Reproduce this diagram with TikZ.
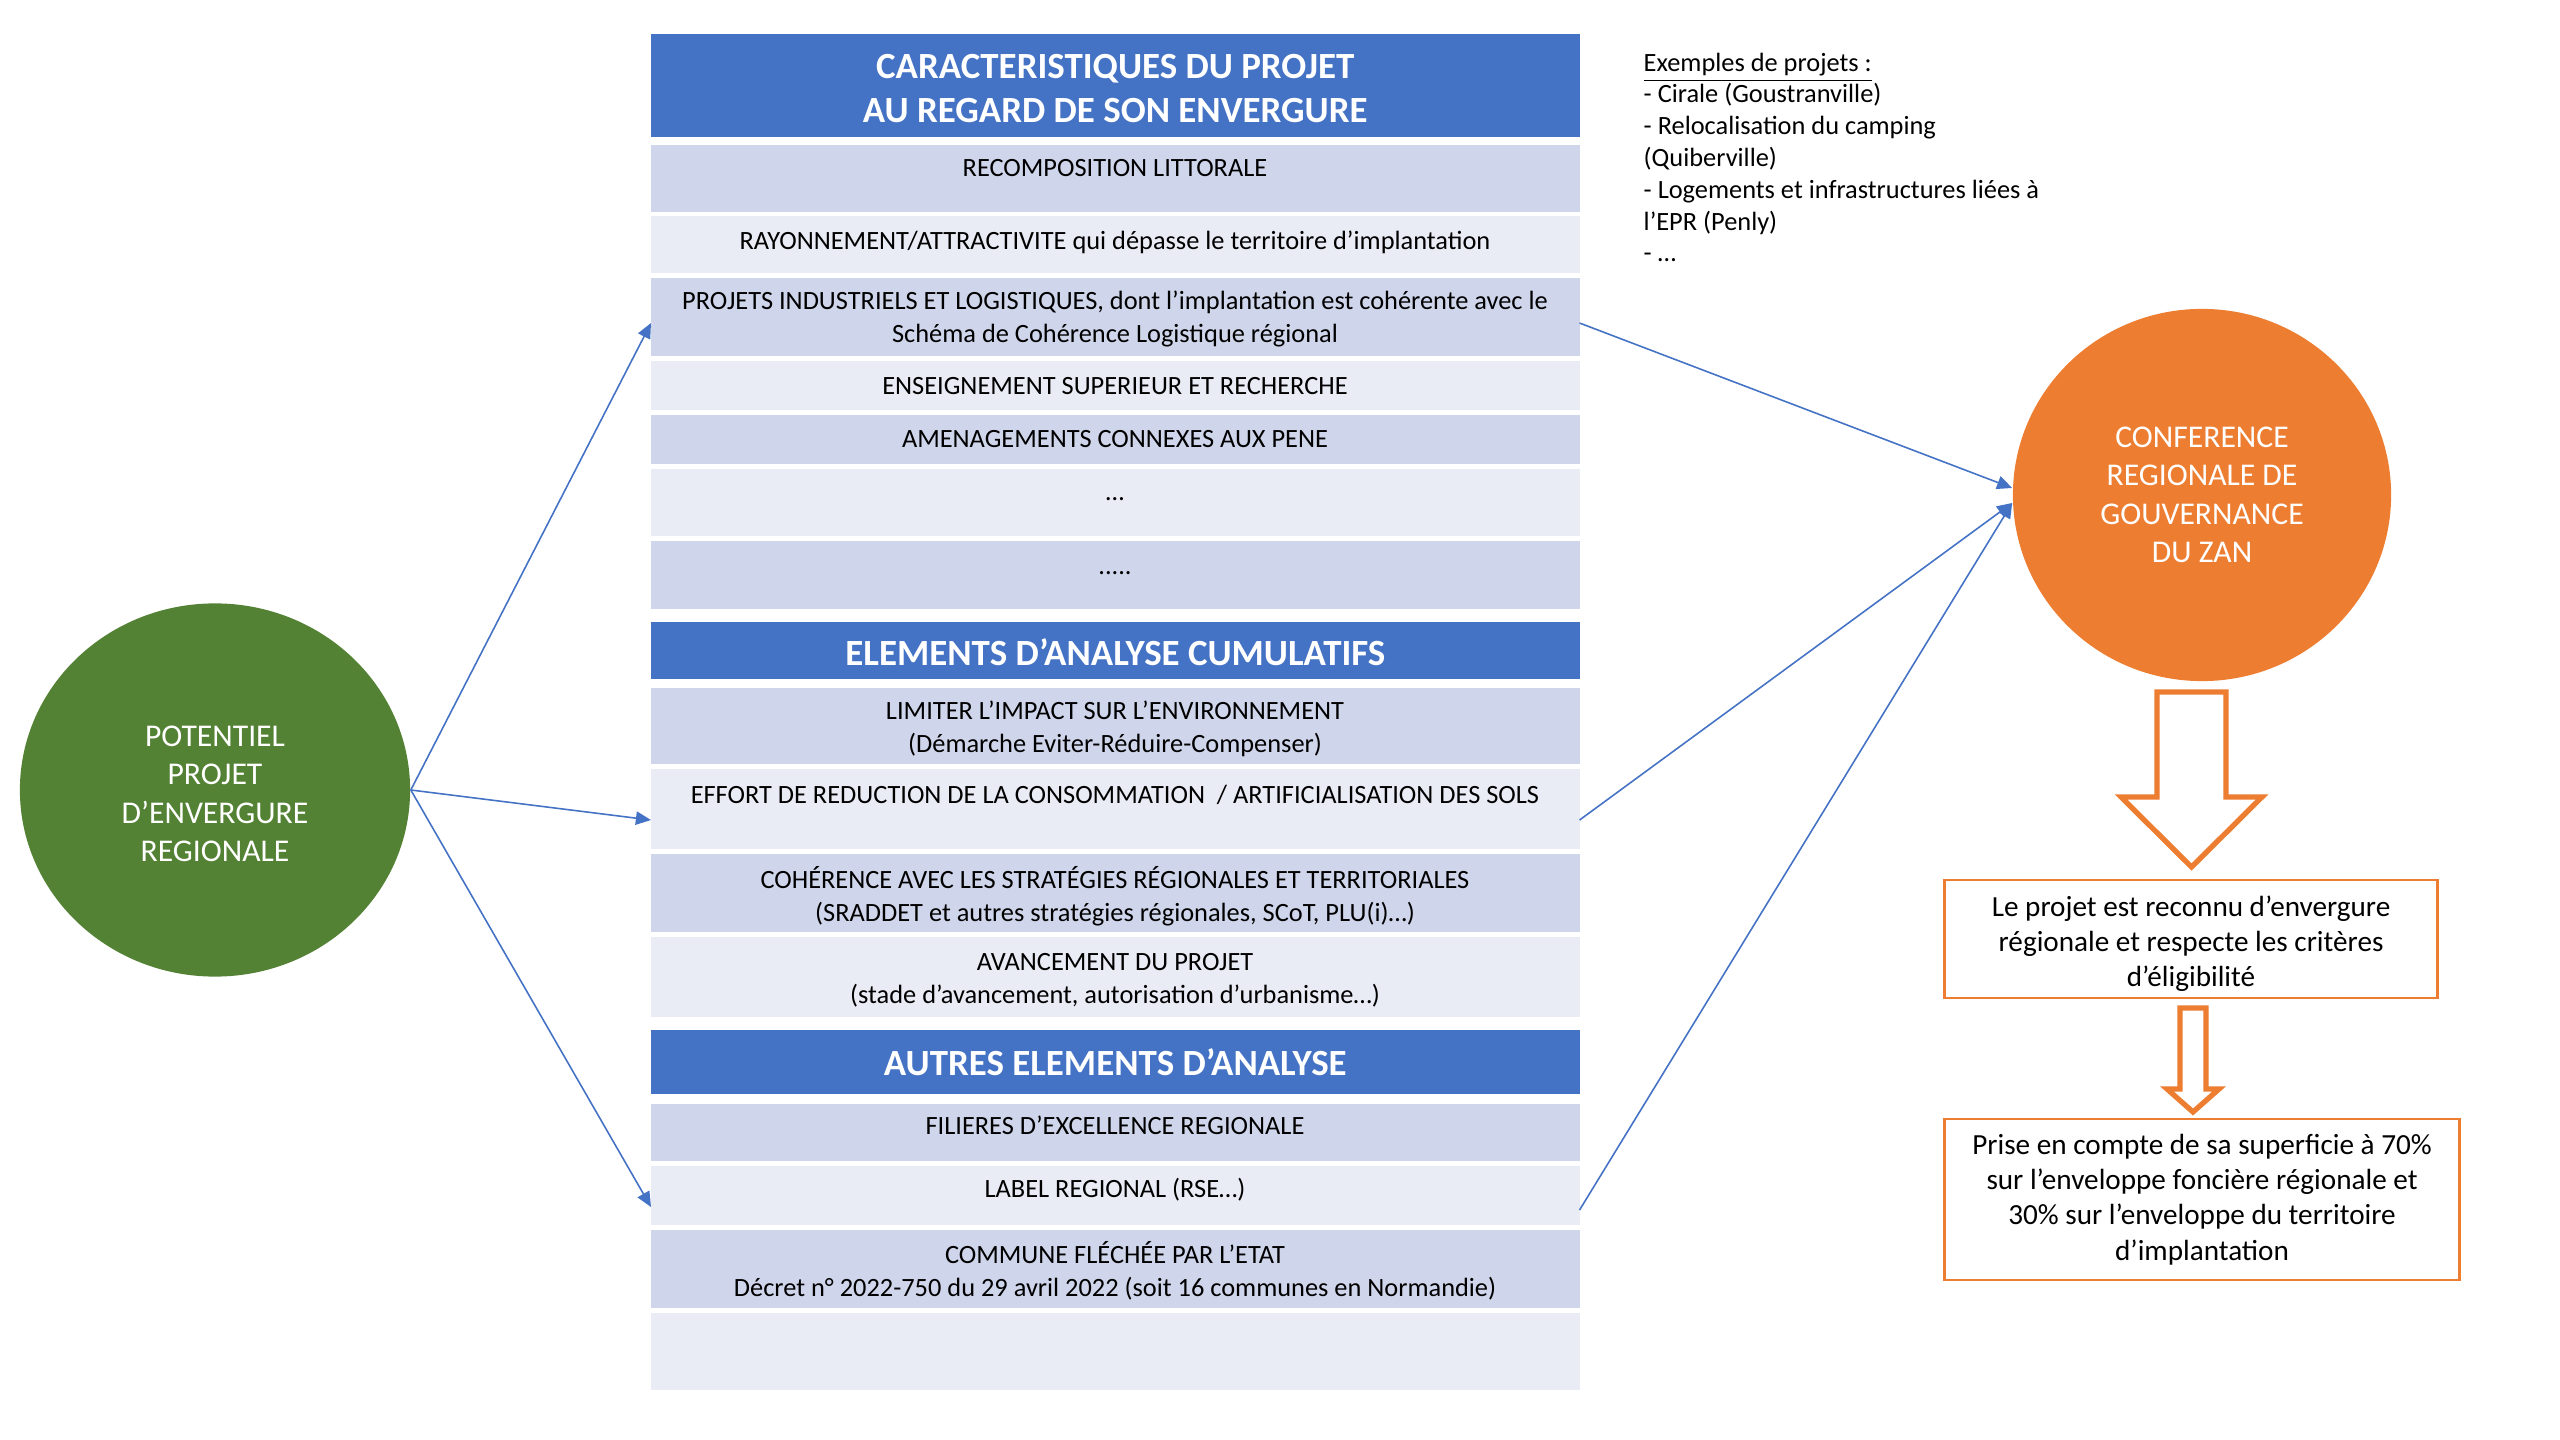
\documentclass[tikz,border=0pt]{standalone}
\usepackage{fontspec}
\setmainfont{Carlito}
\usetikzlibrary{arrows.meta,shapes.geometric}
\definecolor{hdrblue}{HTML}{4472C4}
\definecolor{rowdark}{HTML}{CFD5EA}
\definecolor{rowlight}{HTML}{E9EBF5}
\definecolor{zangreen}{HTML}{548235}
\definecolor{zanorange}{HTML}{ED7D31}

\begin{document}
\begin{tikzpicture}[x=0.01cm, y=-0.01cm,
  cell/.style={inner sep=0, outer sep=0, minimum width=9.28cm, anchor=north west},
  dark/.style={cell, fill=rowdark},
  light/.style={cell, fill=rowlight},
  hdr/.style={cell, fill=hdrblue, text=white, align=center, font=\fontsize{10.5}{12.5}\selectfont\bfseries},
  txt/.style={inner sep=0, align=center, font=\fontsize{7.5}{9.4}\selectfont},
  link/.style={draw=hdrblue, line width=0.45pt, -{Triangle[length=4.3pt,width=3.8pt]}},
  orangebox/.style={draw=zanorange, line width=0.8pt, align=center, inner sep=0, font=\fontsize{8.3}{10}\selectfont},
  bigarrow/.style={draw=zanorange, line width=1.5pt, fill=white, line join=miter}]
\useasboundingbox (0,0) rectangle (2560,1440);

% colonne des criteres
\node[hdr, minimum height=1.03cm] (h1) at (651,34) {\rule{0pt}{0.3cm}CARACTERISTIQUES DU PROJET\\AU REGARD DE SON ENVERGURE};
\node[dark, minimum height=0.67cm] (r1) at (651,145) {};
\node[light, minimum height=0.57cm] (r2) at (651,216) {};
\node[dark, minimum height=0.78cm] (r3) at (651,278) {};
\node[light, minimum height=0.49cm] (r4) at (651,361) {};
\node[dark, minimum height=0.49cm] (r5) at (651,415) {};
\node[light, minimum height=0.67cm] (r6) at (651,469) {};
\node[dark, minimum height=0.68cm] (r7) at (651,541) {};
\node[hdr, minimum height=0.57cm] (h2) at (651,622) {\rule{0pt}{0.3cm}ELEMENTS D’ANALYSE CUMULATIFS};
\node[dark, minimum height=0.76cm] (r8) at (651,688) {};
\node[light, minimum height=0.80cm] (r9) at (651,769) {};
\node[dark, minimum height=0.78cm] (r10) at (651,854) {};
\node[light, minimum height=0.80cm] (r11) at (651,937) {};
\node[hdr, minimum height=0.64cm] (h3) at (651,1030) {AUTRES ELEMENTS D’ANALYSE};
\node[dark, minimum height=0.57cm] (r12) at (651,1104) {};
\node[light, minimum height=0.59cm] (r13) at (651,1166) {};
\node[dark, minimum height=0.78cm] (r14) at (651,1230) {};
\node[light, minimum height=0.77cm] (r15) at (651,1313) {};

\node[txt] (t1) at (1115,168) {RECOMPOSITION LITTORALE};
\node[txt] (t2) at (1115,242) {RAYONNEMENT/ATTRACTIVITE qui dépasse le territoire d’implantation};
\node[txt] (t3) at (1115,319) {PROJETS INDUSTRIELS ET LOGISTIQUES, dont l’implantation est cohérente avec le\\Schéma de Cohérence Logistique régional};
\node[txt] (t4) at (1115,386) {ENSEIGNEMENT SUPERIEUR ET RECHERCHE};
\node[txt] (t5) at (1115,439) {AMENAGEMENTS CONNEXES AUX PENE};
\node[txt] (t6) at (1115,499) {…};
\node[txt] (t7) at (1115,573) {.....};
\node[txt] (t8) at (1115,729) {LIMITER L’IMPACT SUR L’ENVIRONNEMENT\\(Démarche Eviter-Réduire-Compenser)};
\node[txt] (t9) at (1115,795) {EFFORT DE REDUCTION DE LA CONSOMMATION\ \ / ARTIFICIALISATION DES SOLS};
\node[txt] (t10) at (1115,896) {COHÉRENCE AVEC LES STRATÉGIES RÉGIONALES ET TERRITORIALES\\(SRADDET et autres stratégies régionales, SCoT, PLU(i)…)};
\node[txt] (t11) at (1115,980) {AVANCEMENT DU PROJET\\(stade d’avancement, autorisation d’urbanisme…)};
\node[txt] (t12) at (1115,1125) {FILIERES D’EXCELLENCE REGIONALE};
\node[txt] (t13) at (1115,1190) {LABEL REGIONAL (RSE…)};
\node[txt] (t14) at (1115,1271) {COMMUNE FLÉCHÉE PAR L’ETAT\\Décret n° 2022-750 du 29 avril 2022 (soit 16 communes en Normandie)};

% cercles
\node[ellipse, fill=zangreen, text=white, inner sep=0, minimum width=3.9cm, minimum height=3.73cm, align=center, font=\fontsize{9}{10.9}\selectfont] (pot) at (215,790) {\rule{0pt}{0.28cm}POTENTIEL\\PROJET\\D’ENVERGURE\\REGIONALE};
\node[ellipse, fill=zanorange, text=white, inner sep=0, minimum width=3.78cm, minimum height=3.72cm, align=center, font=\fontsize{9}{10.9}\selectfont] (crz) at (2202,495) {CONFERENCE\\REGIONALE DE\\GOUVERNANCE\\DU ZAN};

\node[inner sep=0, anchor=north west, align=left, font=\fontsize{7.5}{9.05}\selectfont] (ex) at (1643,52) {\underline{Exemples de projets :}\\- Cirale (Goustranville)\\- Relocalisation du camping\\(Quiberville)\\- Logements et infrastructures liées à\\l’EPR (Penly)\\- …};

% resultat
\node[orangebox, minimum width=4.92cm, minimum height=1.18cm] (elig) at (2191,939) {\rule{0pt}{0.3cm}Le projet est reconnu d’envergure\\régionale et respecte les critères\\d’éligibilité};
\node[orangebox, minimum width=5.14cm, minimum height=1.61cm] (surf) at (2202,1199.5) {Prise en compte de sa superficie à 70\%\\sur l’enveloppe foncière régionale et\\30\% sur l’enveloppe du territoire\\d’implantation};

\draw[bigarrow] (2157,692) -- (2226,692) -- (2226,797) -- (2262,797) -- (2191.5,867) -- (2121,797) -- (2157,797) -- cycle;
\draw[bigarrow] (2180,1008) -- (2206,1008) -- (2206,1089) -- (2219,1089) -- (2193,1112) -- (2167,1089) -- (2180,1089) -- cycle;

% fleches
\draw[link] (pot.east) -- ([yshift=-0.06cm]r3.west);
\draw[link] (pot.east) -- ([yshift=-0.11cm]r9.west);
\draw[link] (pot.east) -- ([yshift=-0.115cm]r13.west);
\draw[link] ([yshift=-0.06cm]r3.east) -- ([yshift=0.07cm]crz.west);
\draw[link] ([yshift=-0.11cm]r9.east) -- ([yshift=-0.08cm]crz.west);
\draw[link] ([yshift=-0.145cm]r13.east) -- ([yshift=-0.08cm]crz.west);
\end{tikzpicture}
\end{document}
